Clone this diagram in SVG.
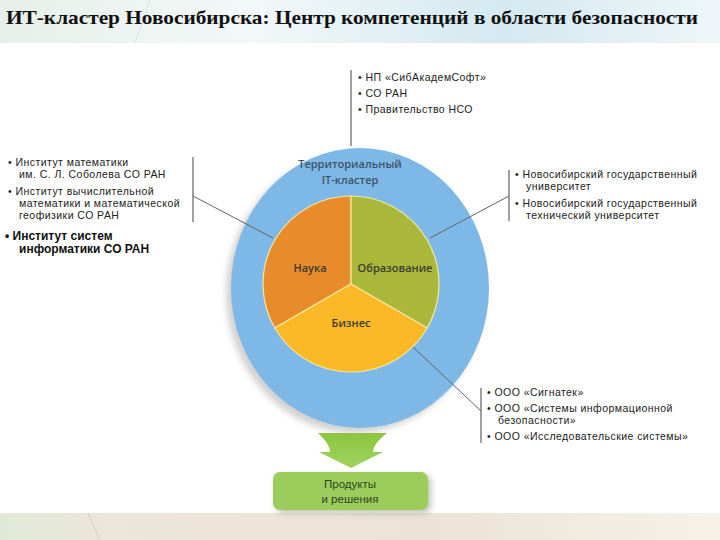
<svg xmlns="http://www.w3.org/2000/svg" width="720" height="540" viewBox="0 0 720 540">
<defs>
<linearGradient id="topband" x1="0" y1="0" x2="1" y2="0">
<stop offset="0" stop-color="#e6f0ea"/>
<stop offset="0.35" stop-color="#f3f8f8"/>
<stop offset="0.7" stop-color="#d3e9f0"/>
<stop offset="1" stop-color="#eef6f8"/>
</linearGradient>
<linearGradient id="botband" x1="0" y1="0" x2="1" y2="0">
<stop offset="0" stop-color="#dfe9d6"/>
<stop offset="0.15" stop-color="#ede6da"/>
<stop offset="0.6" stop-color="#ebe3d5"/>
<stop offset="1" stop-color="#f6f2ea"/>
</linearGradient>
<linearGradient id="arrowg" x1="0" y1="0" x2="0" y2="1">
<stop offset="0" stop-color="#8cc540"/>
<stop offset="1" stop-color="#9fd35c"/>
</linearGradient>
<filter id="sh" x="-20%" y="-20%" width="140%" height="140%">
<feGaussianBlur stdDeviation="3"/>
</filter>
<style>
.t{font-family:"Liberation Sans",Arial,sans-serif;font-size:10.5px;letter-spacing:0.45px;fill:#222}
.b{font-family:"Liberation Sans",Arial,sans-serif;font-size:12px;font-weight:bold;fill:#111}
.lbl{font-family:"Open Sans","Noto Sans",sans-serif;font-size:11px;font-weight:600;fill:#3b3b33;text-anchor:middle}
.conn{stroke:#5f6368;stroke-width:1;fill:none}
.br{stroke:#888;stroke-width:1.6;fill:none}
</style>
</defs>
<rect x="0" y="0" width="720" height="540" fill="#ffffff"/>
<rect x="0" y="0" width="720" height="43" fill="url(#topband)"/>
<path d="M150,0 L135,43" stroke="#d8e6e0" stroke-width="1" fill="none"/>
<rect x="0" y="513" width="720" height="27" fill="url(#botband)"/>
<path d="M88,513 L100,540" stroke="#d4cbbb" stroke-width="1" fill="none"/>

<g id="title">
<text x="6" y="24" font-family="Liberation Serif,serif" font-weight="bold" font-size="19" fill="#111" textLength="692" lengthAdjust="spacingAndGlyphs">ИТ-кластер Новосибирска: Центр компетенций в области безопасности</text>
</g>

<g id="cluster">
<ellipse cx="355" cy="293" rx="129" ry="140" fill="#9a9a9a" opacity="0.45" filter="url(#sh)"/>
<ellipse cx="360" cy="288" rx="129" ry="140" fill="#7db8e6"/>
<text class="lbl" x="350" y="168" style="fill:#3c5366">Территориальный</text>
<text class="lbl" x="350" y="184" style="fill:#3c5366">IT-кластер</text>
</g>

<g id="nauka">
<path d="M351,284 L351,196 A88,88 0 0 0 274.8,328 Z" fill="#e88b2a" stroke="#f4e6a0" stroke-width="1.2"/>
<text class="lbl" x="310" y="272">Наука</text>
</g>
<g id="obrazovanie">
<path d="M351,284 L351,196 A88,88 0 0 1 427.2,328 Z" fill="#a9b83b" stroke="#f4e6a0" stroke-width="1.2"/>
<text class="lbl" x="395" y="272">Образование</text>
</g>
<g id="biznes">
<path d="M351,284 L427.2,328 A88,88 0 0 1 274.8,328 Z" fill="#fbb927" stroke="#f4e6a0" stroke-width="1.2"/>
<text class="lbl" x="351" y="327">Бизнес</text>
</g>

<g id="connectors">
<line class="br" x1="351" y1="70" x2="351" y2="146"/>
<line class="br" x1="193" y1="157" x2="193" y2="222"/>
<line class="conn" x1="193" y1="196" x2="273" y2="238"/>
<line class="br" x1="509" y1="170" x2="509" y2="221"/>
<line class="conn" x1="509" y1="196" x2="430" y2="238"/>
<line class="br" x1="481" y1="388" x2="481" y2="443"/>
<line class="conn" x1="481" y1="411" x2="413" y2="347"/>
<path d="M318,433 L387,433 Q373,444 373,452 L383,452 L351,468 L319,452 L330,452 Q330,444 318,433 Z" fill="url(#arrowg)"/>
</g>

<g id="top-partners">
<text class="t" x="358" y="81">•  НП «СибАкадемСофт»</text>
<text class="t" x="358" y="97">•  СО РАН</text>
<text class="t" x="358" y="113">•  Правительство НСО</text>
</g>

<g id="science-partners">
<text class="t" x="8" y="166">•  Институт математики</text>
<text class="t" x="19" y="178">им. С. Л. Соболева СО РАН</text>
<text class="t" x="8" y="195">•  Институт вычислительной</text>
<text class="t" x="19" y="207">математики и математической</text>
<text class="t" x="19" y="219">геофизики СО РАН</text>
<text class="b" x="5" y="240">•  Институт систем</text>
<text class="b" x="19" y="253">информатики СО РАН</text>
</g>

<g id="edu-partners">
<text class="t" x="515" y="178">•  Новосибирский государственный</text>
<text class="t" x="526" y="190">университет</text>
<text class="t" x="515" y="207">•  Новосибирский государственный</text>
<text class="t" x="526" y="219">технический университет</text>
</g>

<g id="biz-partners">
<text class="t" x="487" y="396">•  ООО «Сигнатек»</text>
<text class="t" x="487" y="412">•  ООО «Системы информационной</text>
<text class="t" x="498" y="424">безопасности»</text>
<text class="t" x="487" y="440">•  ООО «Исследовательские системы»</text>
</g>

<g id="products">
<rect x="276" y="475" width="155" height="38" rx="7" fill="#7a8a6a" opacity="0.5" filter="url(#sh)"/>
<rect x="273" y="472" width="155" height="38" rx="7" fill="#9ccc5b"/>
<text x="350" y="488" font-family="Liberation Sans,Arial,sans-serif" font-size="11.5" fill="#2d4424" text-anchor="middle">Продукты</text>
<text x="350" y="503" font-family="Liberation Sans,Arial,sans-serif" font-size="11.5" fill="#2d4424" text-anchor="middle">и решения</text>
</g>
</svg>
